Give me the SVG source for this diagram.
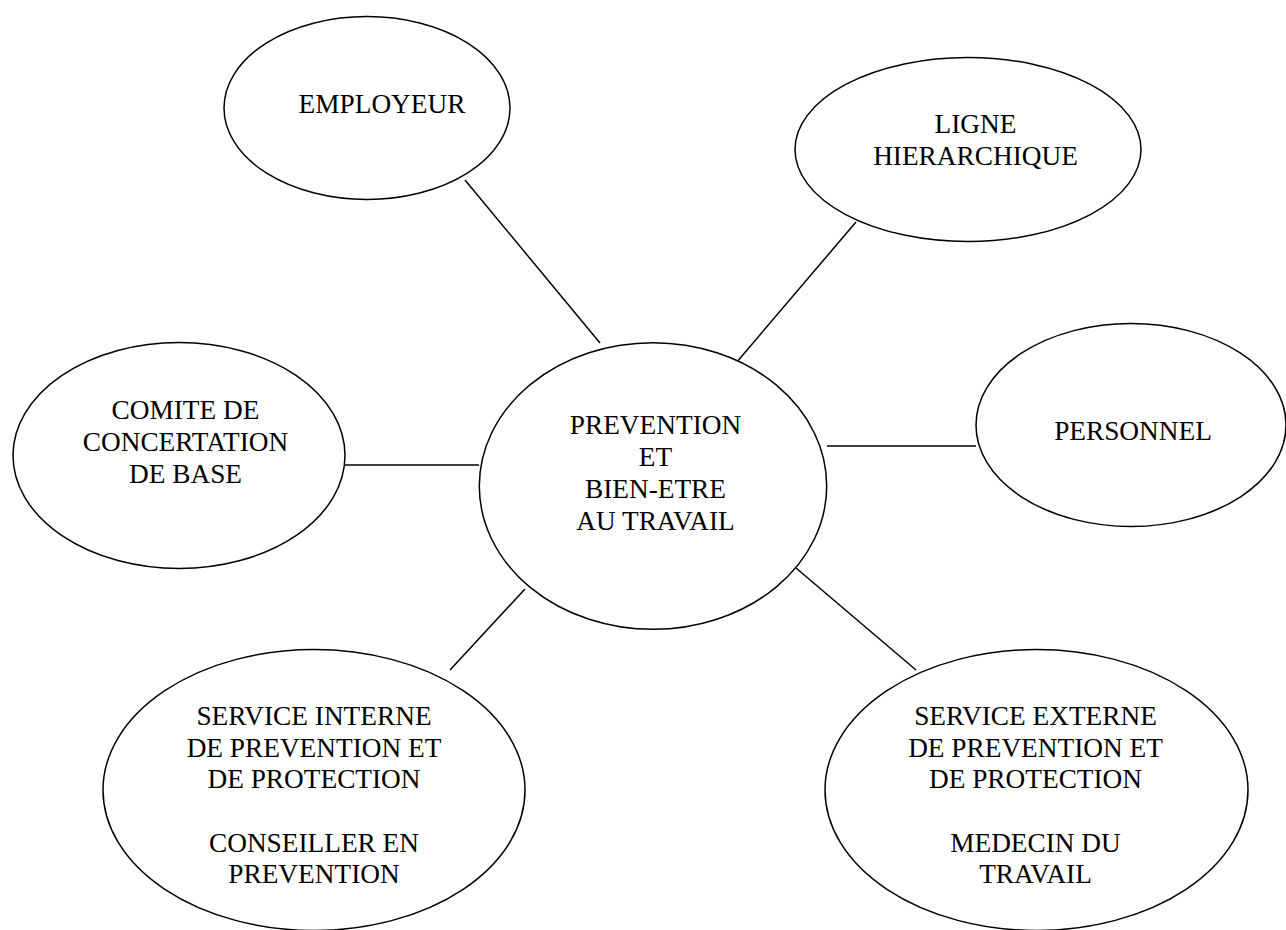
<svg xmlns="http://www.w3.org/2000/svg" width="1286" height="930" viewBox="0 0 1286 930">
<style>
.n{fill:#fff;stroke:#000;stroke-width:1.5}
.c line{stroke:#000;stroke-width:1.5}
text{font-family:"Liberation Serif","Times New Roman",serif;font-size:27.3px;fill:#000;text-anchor:middle}
</style>
<rect width="1286" height="930" fill="#fff"/>
<g class="c" id="connectors">
<line x1="465" y1="180" x2="600" y2="343"/>
<line x1="856" y1="222" x2="736" y2="363"/>
<line x1="345" y1="465" x2="479" y2="465"/>
<line x1="827" y1="446" x2="976" y2="446"/>
<line x1="525" y1="589" x2="450" y2="670"/>
<line x1="796" y1="568" x2="916" y2="670"/>
</g>
<g id="employeur">
<ellipse class="n" cx="367" cy="108" rx="143" ry="91.5"/>
<text x="382" y="113">EMPLOYEUR</text>
</g>
<g id="ligne">
<ellipse class="n" cx="968" cy="149.5" rx="173" ry="92"/>
<text x="975.5" y="133">LIGNE</text>
<text x="975.5" y="165">HIERARCHIQUE</text>
</g>
<g id="comite">
<ellipse class="n" cx="179" cy="455.5" rx="166" ry="113"/>
<text x="185.5" y="419">COMITE DE</text>
<text x="185.5" y="451">CONCERTATION</text>
<text x="185.5" y="483">DE BASE</text>
</g>
<g id="prevention">
<ellipse class="n" cx="653" cy="486" rx="173.7" ry="143.3"/>
<text x="655.5" y="434">PREVENTION</text>
<text x="655.5" y="466">ET</text>
<text x="655.5" y="497.5">BIEN-ETRE</text>
<text x="655.5" y="529.5">AU TRAVAIL</text>
</g>
<g id="personnel">
<ellipse class="n" cx="1131" cy="425" rx="155" ry="101.5"/>
<text x="1133" y="440">PERSONNEL</text>
</g>
<g id="service-interne">
<ellipse class="n" cx="314" cy="790" rx="211" ry="140.5"/>
<text x="314" y="724.5">SERVICE INTERNE</text>
<text x="314" y="756.5">DE PREVENTION ET</text>
<text x="314" y="788">DE PROTECTION</text>
<text x="314" y="852">CONSEILLER EN</text>
<text x="314" y="883">PREVENTION</text>
</g>
<g id="service-externe">
<ellipse class="n" cx="1036.5" cy="790" rx="211.5" ry="140.5"/>
<text x="1035.5" y="724.5">SERVICE EXTERNE</text>
<text x="1035.5" y="756.5">DE PREVENTION ET</text>
<text x="1035.5" y="788">DE PROTECTION</text>
<text x="1035.5" y="852">MEDECIN DU</text>
<text x="1035.5" y="883">TRAVAIL</text>
</g>
</svg>
